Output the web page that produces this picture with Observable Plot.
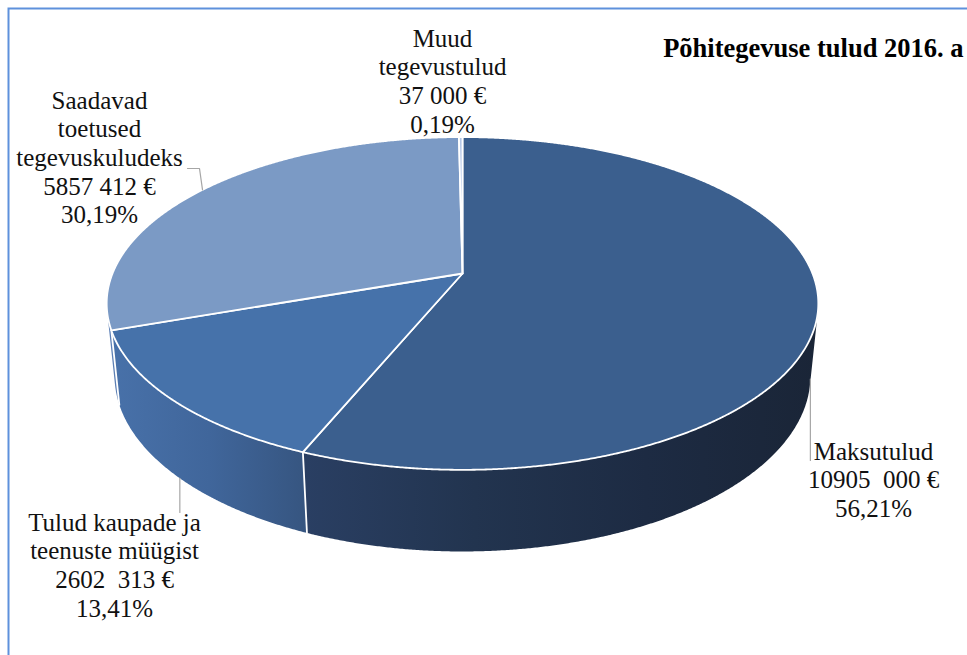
<!DOCTYPE html>
<html>
<head>
<meta charset="utf-8">
<script src="https://cdn.jsdelivr.net/npm/d3@7"></script>
<script src="https://cdn.jsdelivr.net/npm/@observablehq/plot@0.6"></script>
<style>
html,body{margin:0;padding:0;background:#fff;overflow:hidden;}
#chart svg{display:block;}
#chart svg text, #chart svg tspan{font-family:"Liberation Serif","Times New Roman","DejaVu Serif",serif !important;}
</style>
</head>
<body>
<div id="chart"></div>
<script>
// ---------- data ----------
const title = "Põhitegevuse tulud 2016. a";
const categories = ["Maksutulud", "Tulud kaupade ja\nteenuste müügist", "Saadavad\ntoetused\ntegevuskuludeks", "Muud\ntegevustulud"];
const values = [10905000, 2602313, 5857412, 37000];
const valueLabels = ["10905 \u00a0000 €", "2602 \u00a0313 €", "5857 412 €", "37 000 €"];

// ---------- styles / layout ----------
const W = 967, H = 655;
const FONT = "Liberation Serif, Times New Roman, DejaVu Serif, serif";
const topColors = ["#3b5f8e", "#4672aa", "#7b9ac5", "#b4c7e7"];
const wallStops = [
  ["#2a3f63", "#22344f", "#1d2b43", "#1a2537"],
  ["#4871a9", "#40669b", "#365580"],
  ["#5f82b8", "#5a7db2"],
  ["#8ea8d2", "#8ea8d2"]
];
// pie camera model
const CX = 462, CY = 273, A = 350, S = 0.46, C = Math.sqrt(1 - S * S), K = 0.18, DD = C / K, DEPTH = 0.235;
// label layout: center x, first baseline y, line step
const labelLayout = [
  {x: 873, y: 459}, {x: 114, y: 530}, {x: 99, y: 108}, {x: 442, y: 46}
];
const lineStep = 28.7;
// leader elbows (from slice anchor toward the label)
const leaderLayout = [
  {face: "side", pts: [[null, 460]]},
  {face: "side", pts: [[null, 512]]},
  {face: "top", pts: [[199, 168], [187, 168]]},
  null
];

// ---------- geometry ----------
function proj3(X, Y, Z) {
  const zc = 1 + K * Y - Z * S / DD;
  return [CX + A * X / zc, CY - A * (Y * S + Z * C) / zc];
}
function rim(alphaDeg, Z) {
  const a = alphaDeg * Math.PI / 180;
  return proj3(Math.sin(a), Math.cos(a), Z);
}
const total = d3.sum(values);
let acc = 0;
const slices = values.map((v, i) => {
  const a0 = acc / total * 360; acc += v;
  return {i, a0, a1: acc / total * 360};
});
const VL = Math.acos(-K / (C * C)) * 180 / Math.PI; // visible side from VL..360-VL
const VH = 360 - VL;
const arcPts = (b0, b1, Z) => {
  const n = Math.max(2, Math.ceil(Math.abs(b1 - b0) / 0.25));
  return d3.range(n + 1).map(j => rim(b0 + (b1 - b0) * j / n, Z));
};

// top faces
const topRows = [];
slices.forEach(s => {
  const id = "top" + s.i, fill = topColors[s.i];
  const c = proj3(0, 0, 0);
  const pts = [c, ...arcPts(s.a0, s.a1, 0), c];
  pts.forEach(p => topRows.push({id, x: p[0], y: p[1], fill}));
});

// walls
const wallRows = [];
const gradients = [];
slices.forEach(s => {
  const b0 = Math.max(s.a0, VL), b1 = Math.min(s.a1, VH);
  if (b1 <= b0) return;
  const id = "wall" + s.i, fill = `url(#wallGrad${s.i})`;
  const topArc = arcPts(b0, b1, 0), botArc = arcPts(b1, b0, -DEPTH);
  const pts = [...topArc, ...botArc, topArc[0]];
  pts.forEach(p => wallRows.push({id, x: p[0], y: p[1], fill}));
  gradients.push({i: s.i, x1: d3.min(pts, p => p[0]), x2: d3.max(pts, p => p[0])});
});

// wall seams
const seamRows = [];
slices.forEach(s => {
  if (s.a0 > VL && s.a0 < VH) {
    const t = rim(s.a0, 0), b = rim(s.a0, -DEPTH);
    seamRows.push({id: "seam" + s.i, x: t[0], y: t[1]}, {id: "seam" + s.i, x: b[0], y: b[1]});
  }
});

// leaders
const leaderRows = [];
slices.forEach(s => {
  const L = leaderLayout[s.i];
  if (!L) return;
  const mid = (s.a0 + s.a1) / 2;
  const start = rim(mid, L.face === "side" ? -DEPTH : 0);
  const id = "lead" + s.i;
  leaderRows.push({id, x: start[0], y: start[1]});
  L.pts.forEach(p => leaderRows.push({id, x: p[0] == null ? start[0] : p[0], y: p[1]}));
});

// labels
const fmtPct = v => (v / total * 100).toFixed(2).replace(".", ",") + "%";
const labelRows = [];
slices.forEach(s => {
  const lines = [...categories[s.i].split("\n"), valueLabels[s.i], fmtPct(values[s.i])];
  const L = labelLayout[s.i];
  lines.forEach((t, j) => labelRows.push({x: L.x, y: L.y + j * lineStep, text: t}));
});

const chart = Plot.plot({
  width: W, height: H,
  margin: 0,
  x: {type: "linear", domain: [0, W], range: [0, W], axis: null},
  y: {type: "linear", domain: [0, H], range: [0, H], axis: null},
  color: {type: "identity"},
  style: {background: "#fff", fontFamily: FONT, overflow: "hidden"},
  marks: [
    Plot.line(wallRows, {x: "x", y: "y", z: "id", fill: "fill", stroke: "none", curve: "linear"}),
    Plot.line(seamRows, {x: "x", y: "y", z: "id", stroke: "#ffffff", strokeWidth: 1.8, curve: "linear"}),
    Plot.line(topRows, {x: "x", y: "y", z: "id", fill: "fill", stroke: "#ffffff", strokeWidth: 1.8, strokeLinejoin: "round", curve: "linear"}),
    Plot.line(leaderRows, {x: "x", y: "y", z: "id", stroke: "#a6a6a6", strokeWidth: 1.2, curve: "linear"}),
    Plot.text(labelRows, {x: "x", y: "y", text: "text", textAnchor: "middle", lineAnchor: "bottom", fontSize: 25, fill: "#111", fontFamily: FONT}),
    Plot.text([title], {x: () => 963, y: () => 56, text: d => d, textAnchor: "end", lineAnchor: "bottom", fontSize: 26.5, fontWeight: "bold", fill: "#000", fontFamily: FONT}),
    Plot.frame({stroke: "#5e91dc", strokeWidth: 2, insetLeft: 8, insetTop: 8, insetRight: -20, insetBottom: -20})
  ]
});

// gradient definitions for the side walls
const defs = d3.select(chart).insert("defs", ":first-child");
gradients.forEach(g => {
  const lg = defs.append("linearGradient")
    .attr("id", "wallGrad" + g.i)
    .attr("gradientUnits", "userSpaceOnUse")
    .attr("x1", g.x1).attr("x2", g.x2).attr("y1", 0).attr("y2", 0);
  const stops = wallStops[g.i];
  stops.forEach((c, k) => lg.append("stop").attr("offset", stops.length === 1 ? 0 : k / (stops.length - 1)).attr("stop-color", c));
});

document.getElementById("chart").appendChild(chart);
</script>
</body>
</html>
